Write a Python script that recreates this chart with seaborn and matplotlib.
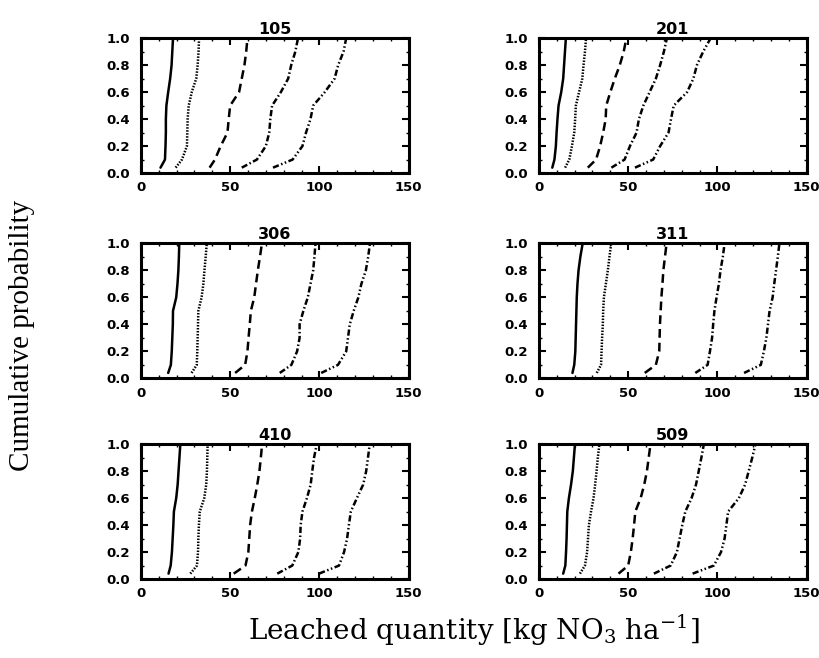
import matplotlib
matplotlib.use("Agg")
import matplotlib.pyplot as plt
import numpy as np
import pandas as pd
import seaborn as sns

# Cumulative probability levels at which each curve's leached quantity is given
prob = [0.04, 0.1, 0.2, 0.3, 0.4, 0.5, 0.6, 0.7, 0.8, 0.9, 1.0]

sites = ["105", "201", "306", "311", "410", "509"]
scenarios = ["S1", "S2", "S3", "S4", "S5"]

# Leached quantity (kg NO3 / ha) per site, one list per scenario
site_105 = [
    [11, 13.5, 13.8, 14, 14, 14.3, 15.3, 16.4, 17.2, 17.6, 18],
    [19.5, 23, 25.8, 26, 26.2, 26.8, 28.5, 31, 31.8, 32.3, 32.6],
    [38.5, 41.5, 44.7, 48.5, 49.2, 50, 55, 56.5, 58, 59, 59.7],
    [56.5, 65, 70, 71.9, 72.5, 73.5, 78.4, 82.5, 84.2, 86.5, 88],
    [74, 85, 90.5, 92.5, 95, 96.5, 103, 108.5, 110.5, 113.5, 115],
]
site_201 = [
    [7.5, 8.7, 9.5, 9.9, 10.4, 11, 12.5, 13.6, 14.1, 14.6, 15.1],
    [14.7, 17, 18.5, 19.8, 20.3, 20.7, 22.5, 24.3, 25, 25.8, 26.4],
    [27.4, 32, 34.3, 36, 37.4, 37.7, 40, 42.5, 45.3, 47.5, 49],
    [40.6, 48, 51, 54.7, 56, 58.5, 62, 65.5, 67.9, 70, 71.7],
    [53.8, 64, 67.9, 72.6, 74, 75.5, 83, 86.5, 88.5, 92, 96.2],
]
site_306 = [
    [15.3, 16.8, 17.3, 17.6, 17.9, 18, 19.8, 20.5, 21, 21.3, 21.5],
    [28.4, 31.3, 31.6, 31.8, 32, 32.2, 34, 35, 35.6, 36.3, 36.9],
    [52.8, 58.4, 59.7, 60.3, 61, 61.6, 63.5, 64.5, 65.5, 66.7, 67.8],
    [77.8, 84.3, 87.5, 88.9, 88.9, 91, 93.5, 95, 96.5, 97.2, 97.8],
    [101, 110.4, 115, 116, 117, 119.2, 121.8, 123.5, 126, 127.3, 128.3],
]
site_311 = [
    [18.8, 19.8, 20.4, 20.6, 20.8, 21, 21.2, 21.6, 22.2, 23.2, 24.5],
    [32.4, 34.8, 35.1, 35.4, 35.8, 36, 36.4, 37.5, 38.6, 39.5, 40.5],
    [59.3, 65.5, 67.4, 67.6, 67.8, 68.2, 68.6, 69.2, 69.7, 70.6, 71.5],
    [87.6, 94.5, 95.8, 97, 97.6, 98.3, 99.5, 100.8, 101.7, 103, 104],
    [114.9, 124.3, 126, 127.4, 128.3, 129.2, 130.9, 131.8, 132.8, 133.8, 134.7],
]
site_410 = [
    [15.5, 16.7, 17.4, 17.8, 18.2, 18.5, 19.8, 20.6, 21.1, 21.6, 22.1],
    [27.7, 31.4, 32, 32.2, 32.5, 33, 35.5, 36.6, 37, 37.2, 37.4],
    [52, 58.6, 60.2, 60.7, 61.2, 62.2, 63.8, 65.2, 66.4, 67.2, 67.9],
    [76.4, 84.8, 88.2, 89.2, 89.5, 90.5, 93, 95.1, 96, 97, 98.5],
    [99.8, 111, 113.8, 115.5, 116.5, 117.6, 121, 124.5, 126.2, 127.2, 128.2],
]
site_509 = [
    [13.6, 14.8, 15.2, 15.5, 15.7, 15.9, 16.8, 18, 19, 19.6, 20.2],
    [23, 25.8, 27, 27.5, 28, 29.2, 30.6, 31.5, 32.3, 33, 33.9],
    [44.6, 50, 51.5, 52.5, 53.3, 54, 57, 59, 60.5, 61.5, 62.5],
    [64.4, 73.8, 77.3, 78.8, 80.3, 82, 85.5, 88, 89.5, 91, 92.4],
    [86.1, 98, 102, 104, 105, 106, 112, 115.5, 117.5, 119.5, 121.3],
]

x_ticks = [0, 50, 100, 150]
y_ticks = [0.0, 0.2, 0.4, 0.6, 0.8, 1.0]

site_values = [site_105, site_201, site_306, site_311, site_410, site_509]

rows = []
for site, curves in zip(sites, site_values):
    for scen, qs in zip(scenarios, curves):
        for order, (q, p) in enumerate(zip(qs, prob)):
            rows.append({"site": site, "scenario": scen, "order": order,
                         "quantity": q, "probability": p})
df = pd.DataFrame(rows)

sns.set_style("ticks")
plt.rcParams["font.family"] = ["DejaVu Sans"]
plt.rcParams["text.color"] = "black"
plt.rcParams["xtick.color"] = "black"
plt.rcParams["ytick.color"] = "black"
plt.rcParams["mathtext.fontset"] = "custom"
plt.rcParams["mathtext.rm"] = "DejaVu Serif"
plt.rcParams["mathtext.it"] = "DejaVu Serif:italic"

fig = plt.figure(figsize=(8.19, 6.58), dpi=100)
fig.patch.set_facecolor("white")

lefts = [0.172, 0.658]
bottoms = [0.737, 0.425, 0.120]
width, height = 0.327, 0.205

dash_map = {
    "S1": "",
    "S2": (0.6, 0.6),
    "S3": (3.5, 2.0),
    "S4": (2.5, 1.0, 0.6, 1.0),
    "S5": (2.5, 1.0, 0.6, 1.0, 0.6, 1.0),
}

for i, site in enumerate(sites):
    r, c = divmod(i, 2)
    ax = fig.add_axes([lefts[c], bottoms[r], width, height])
    sub = df[df["site"] == site]
    sns.lineplot(data=sub, x="quantity", y="probability", style="scenario",
                 units="scenario", estimator=None, sort=False,
                 dashes=dash_map, color="black", linewidth=1.8,
                 legend=False, ax=ax)
    ax.set_xlim(0, 150)
    ax.set_ylim(0, 1.0)
    ax.set_xticks(x_ticks)
    ax.set_yticks(y_ticks)
    ax.set_xticklabels([str(t) for t in x_ticks])
    ax.set_yticklabels([f"{t:.1f}" for t in y_ticks])
    ax.set_xticks(np.arange(0, 151, 10), minor=True)
    ax.set_yticks(np.arange(0, 1.01, 0.1), minor=True)
    ax.tick_params(which="major", direction="in", length=5, width=1.5,
                   top=True, right=True, labelsize=9.5, pad=6,
                   labelcolor="black")
    ax.tick_params(axis="y", which="major", pad=8)
    ax.tick_params(which="minor", direction="in", length=2.5, width=1.0,
                   top=True, right=True)
    for lab in ax.get_xticklabels() + ax.get_yticklabels():
        lab.set_fontweight("heavy")
    for sp in ax.spines.values():
        sp.set_linewidth(2.2)
        sp.set_color("black")
    ax.set_xlabel("")
    ax.set_ylabel("")
    ax.set_title(site, fontsize=11.5, fontweight="heavy", pad=3, color="black")

fig.text(0.027, 0.49, "Cumulative probability", rotation=90,
         ha="center", va="center", fontsize=21, family="Liberation Serif")
fig.text(0.579, 0.042, r"Leached quantity [kg NO$_3$ ha$^{-1}$]",
         ha="center", va="center", fontsize=20, family="DejaVu Serif")

fig.savefig("out.png", dpi=100, facecolor="white")
